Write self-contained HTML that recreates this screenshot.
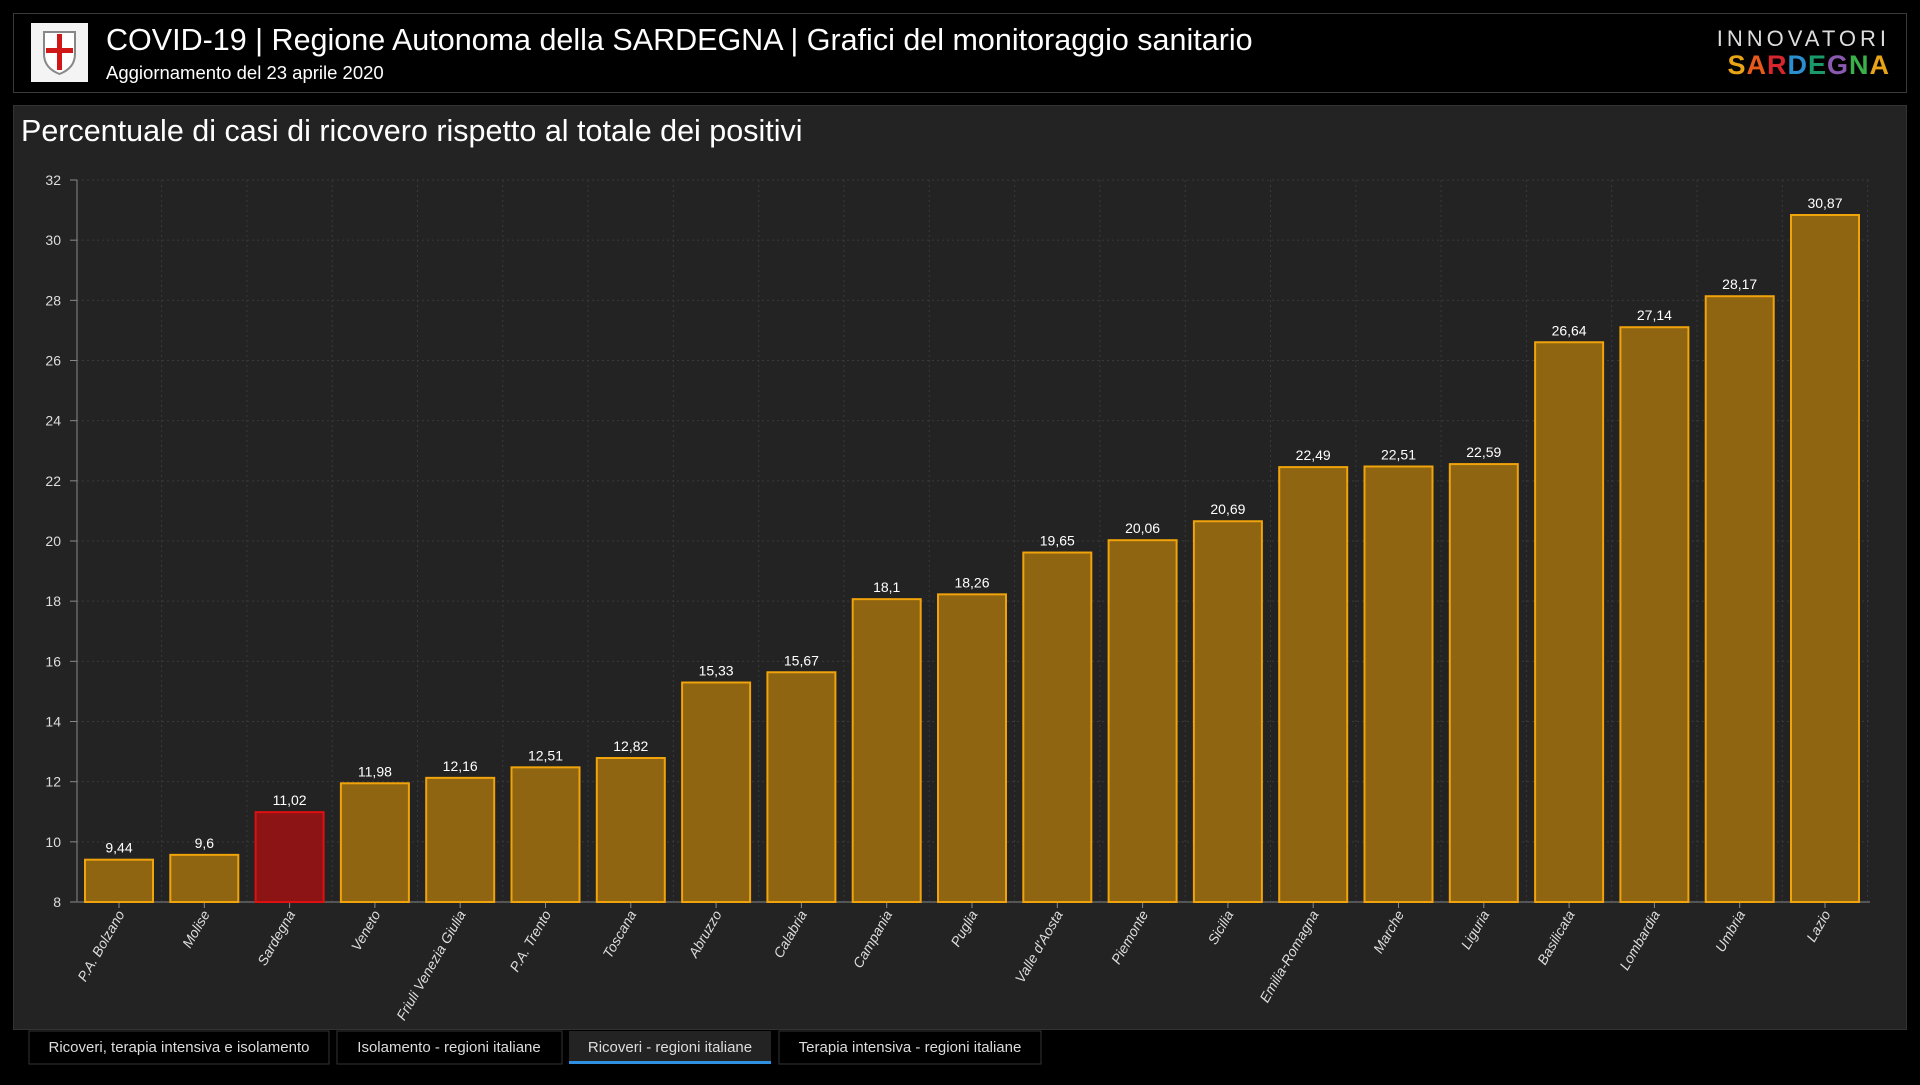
<!DOCTYPE html>
<html><head><meta charset="utf-8"><style>
body{margin:0;background:#000;width:1920px;height:1080px;overflow:hidden;font-family:"Liberation Sans",sans-serif;}
</style></head><body>
<svg width="1920" height="1080" xmlns="http://www.w3.org/2000/svg" font-family="Liberation Sans, sans-serif">
<rect width="1920" height="1080" fill="#000"/>
<rect x="13.5" y="13.5" width="1893" height="79" fill="#000" stroke="#3a3a3a"/>
<rect x="31" y="23" width="57" height="59" fill="#f4f4f4"/>
<path d="M44 32 h31 v22 q0 14 -15.5 20 q-15.5 -6 -15.5 -20z" fill="#fff" stroke="#888" stroke-width="2"/>
<rect x="57" y="34" width="5" height="36" fill="#d01818"/>
<rect x="46" y="48" width="27" height="5" fill="#d01818"/>
<text x="106" y="50" fill="#fff" font-size="30.5">COVID-19 | Regione Autonoma della SARDEGNA | Grafici del monitoraggio sanitario</text>
<text x="106" y="79" fill="#fff" font-size="18.5">Aggiornamento del 23 aprile 2020</text>
<text x="1890" y="46" fill="#ddd" font-size="22" text-anchor="end" letter-spacing="4">INNOVATORI</text>
<text x="1890" y="74" font-size="27" font-weight="bold" text-anchor="end" letter-spacing="1"><tspan fill="#e8a317">S</tspan><tspan fill="#e85a1a">A</tspan><tspan fill="#d8262e">R</tspan><tspan fill="#2a8fd0">D</tspan><tspan fill="#1a9a6a">E</tspan><tspan fill="#8a5ab0">G</tspan><tspan fill="#3ab04a">N</tspan><tspan fill="#e8a317">A</tspan></text>
<rect x="13.5" y="105.5" width="1893" height="924" fill="#232323" stroke="#333"/>
<text x="21" y="141" fill="#fff" font-size="30.5">Percentuale di casi di ricovero rispetto al totale dei positivi</text>
<g id="chart"></g>
<g font-size="15" fill="#ddd">
<rect x="29" y="1031" width="300" height="33" fill="#000" stroke="#333"/>
<text x="179" y="1052" text-anchor="middle">Ricoveri, terapia intensiva e isolamento</text>
<rect x="337" y="1031" width="225" height="33" fill="#000" stroke="#333"/>
<text x="449" y="1052" text-anchor="middle">Isolamento - regioni italiane</text>
<rect x="569" y="1031" width="202" height="33" fill="#232323"/>
<rect x="569" y="1061" width="202" height="3" fill="#2f8fe0"/>
<text x="670" y="1052" text-anchor="middle">Ricoveri - regioni italiane</text>
<rect x="779" y="1031" width="262" height="33" fill="#000" stroke="#333"/>
<text x="910" y="1052" text-anchor="middle">Terapia intensiva - regioni italiane</text>
</g>
</svg>
<script>
const d=[["P.A. Bolzano",9.44],["Molise",9.6],["Sardegna",11.02],["Veneto",11.98],["Friuli Venezia Giulia",12.16],["P.A. Trento",12.51],["Toscana",12.82],["Abruzzo",15.33],["Calabria",15.67],["Campania",18.1],["Puglia",18.26],["Valle d'Aosta",19.65],["Piemonte",20.06],["Sicilia",20.69],["Emilia-Romagna",22.49],["Marche",22.51],["Liguria",22.59],["Basilicata",26.64],["Lombardia",27.14],["Umbria",28.17],["Lazio",30.87]];
const Y=v=>902-(v-8)*30.083;let s='';
for(let v=8;v<=32;v+=2){const y=Y(v);s+=`<line x1="77" x2="1870" y1="${y}" y2="${y}" stroke="#3a3a3a" stroke-dasharray="2,3"/><line x1="70" x2="77" y1="${y}" y2="${y}" stroke="#888"/><text x="61" y="${y+5}" fill="#ddd" font-size="14" text-anchor="end">${v}</text>`;}
for(let i=0;i<21;i++){const x=161.6+85.3*i;s+=`<line x1="${x}" x2="${x}" y1="180" y2="902" stroke="#3a3a3a" stroke-dasharray="2,3"/>`;}
s+=`<line x1="77" x2="77" y1="180" y2="902" stroke="#888"/><line x1="77" x2="1870" y1="902" y2="902" stroke="#555" stroke-width="2"/>`;
d.forEach(([n,v],i)=>{const x=84+85.3*i,c=x+35,y=Y(v),r=n=="Sardegna";
s+=`<rect x="${x+1}" y="${y+1}" width="68" height="${901-y}" fill="${r?'#8c1414':'#8f6512'}" stroke="${r?'#e01010':'#f0a30a'}" stroke-width="2"/>`;
s+=`<text x="${c}" y="${y-6}" fill="#fff" font-size="14" text-anchor="middle">${String(v).replace('.',',')}</text>`;
s+=`<line x1="${c}" x2="${c}" y1="903" y2="908" stroke="#888"/>`;
s+=`<text transform="translate(${c+6},914) rotate(-60)" fill="#ddd" font-size="14" font-style="italic" text-anchor="end">${n}</text>`;});
document.getElementById('chart').innerHTML=s;
</script>
</body></html>
